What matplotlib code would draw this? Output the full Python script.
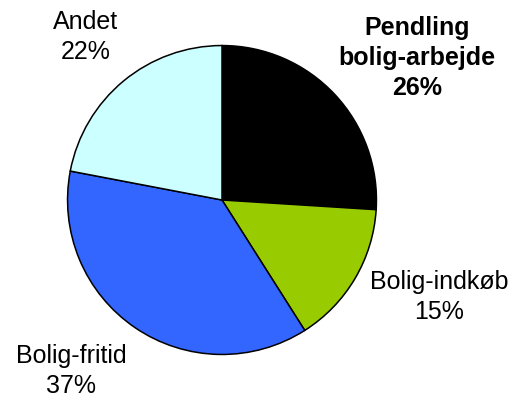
import matplotlib
matplotlib.use("Agg")
import matplotlib.pyplot as plt

labels = ["Pendling\nbolig-arbejde", "Bolig-indkøb", "Bolig-fritid", "Andet"]
values = [26, 15, 37, 22]
colors = ["#000000", "#99CC00", "#3366FF", "#CCFFFF"]

W, H = 513, 403
fig = plt.figure(figsize=(W / 100, H / 100), dpi=100)
fig.patch.set_facecolor("white")

cx, cy, r = 222, 200, 156
ax = fig.add_axes([(cx - r) / W, (H - cy - r) / H, 2 * r / W, 2 * r / H])
ax.pie(values, colors=colors, startangle=90, counterclock=False,
       wedgeprops=dict(edgecolor="black", linewidth=1.1))
ax.set_xlim(-1.01, 1.01)
ax.set_ylim(-1.01, 1.01)
ax.set_aspect("auto")
ax.axis("off")

font = "Liberation Sans"
# label positions (figure pixels: x, y of text centre)
pos = [(417, 58), (439, 297), (71, 371), (86, 37)]
bold = [True, False, False, False]
for lab, v, (px, py), b in zip(labels, values, pos, bold):
    fig.text(px / W, 1 - py / H, f"{lab}\n{v}%", ha="center", va="center",
             fontsize=18, family=font, fontweight="bold" if b else "normal",
             linespacing=1.3, color="black")

fig.savefig("out.png", dpi=100, facecolor="white")
